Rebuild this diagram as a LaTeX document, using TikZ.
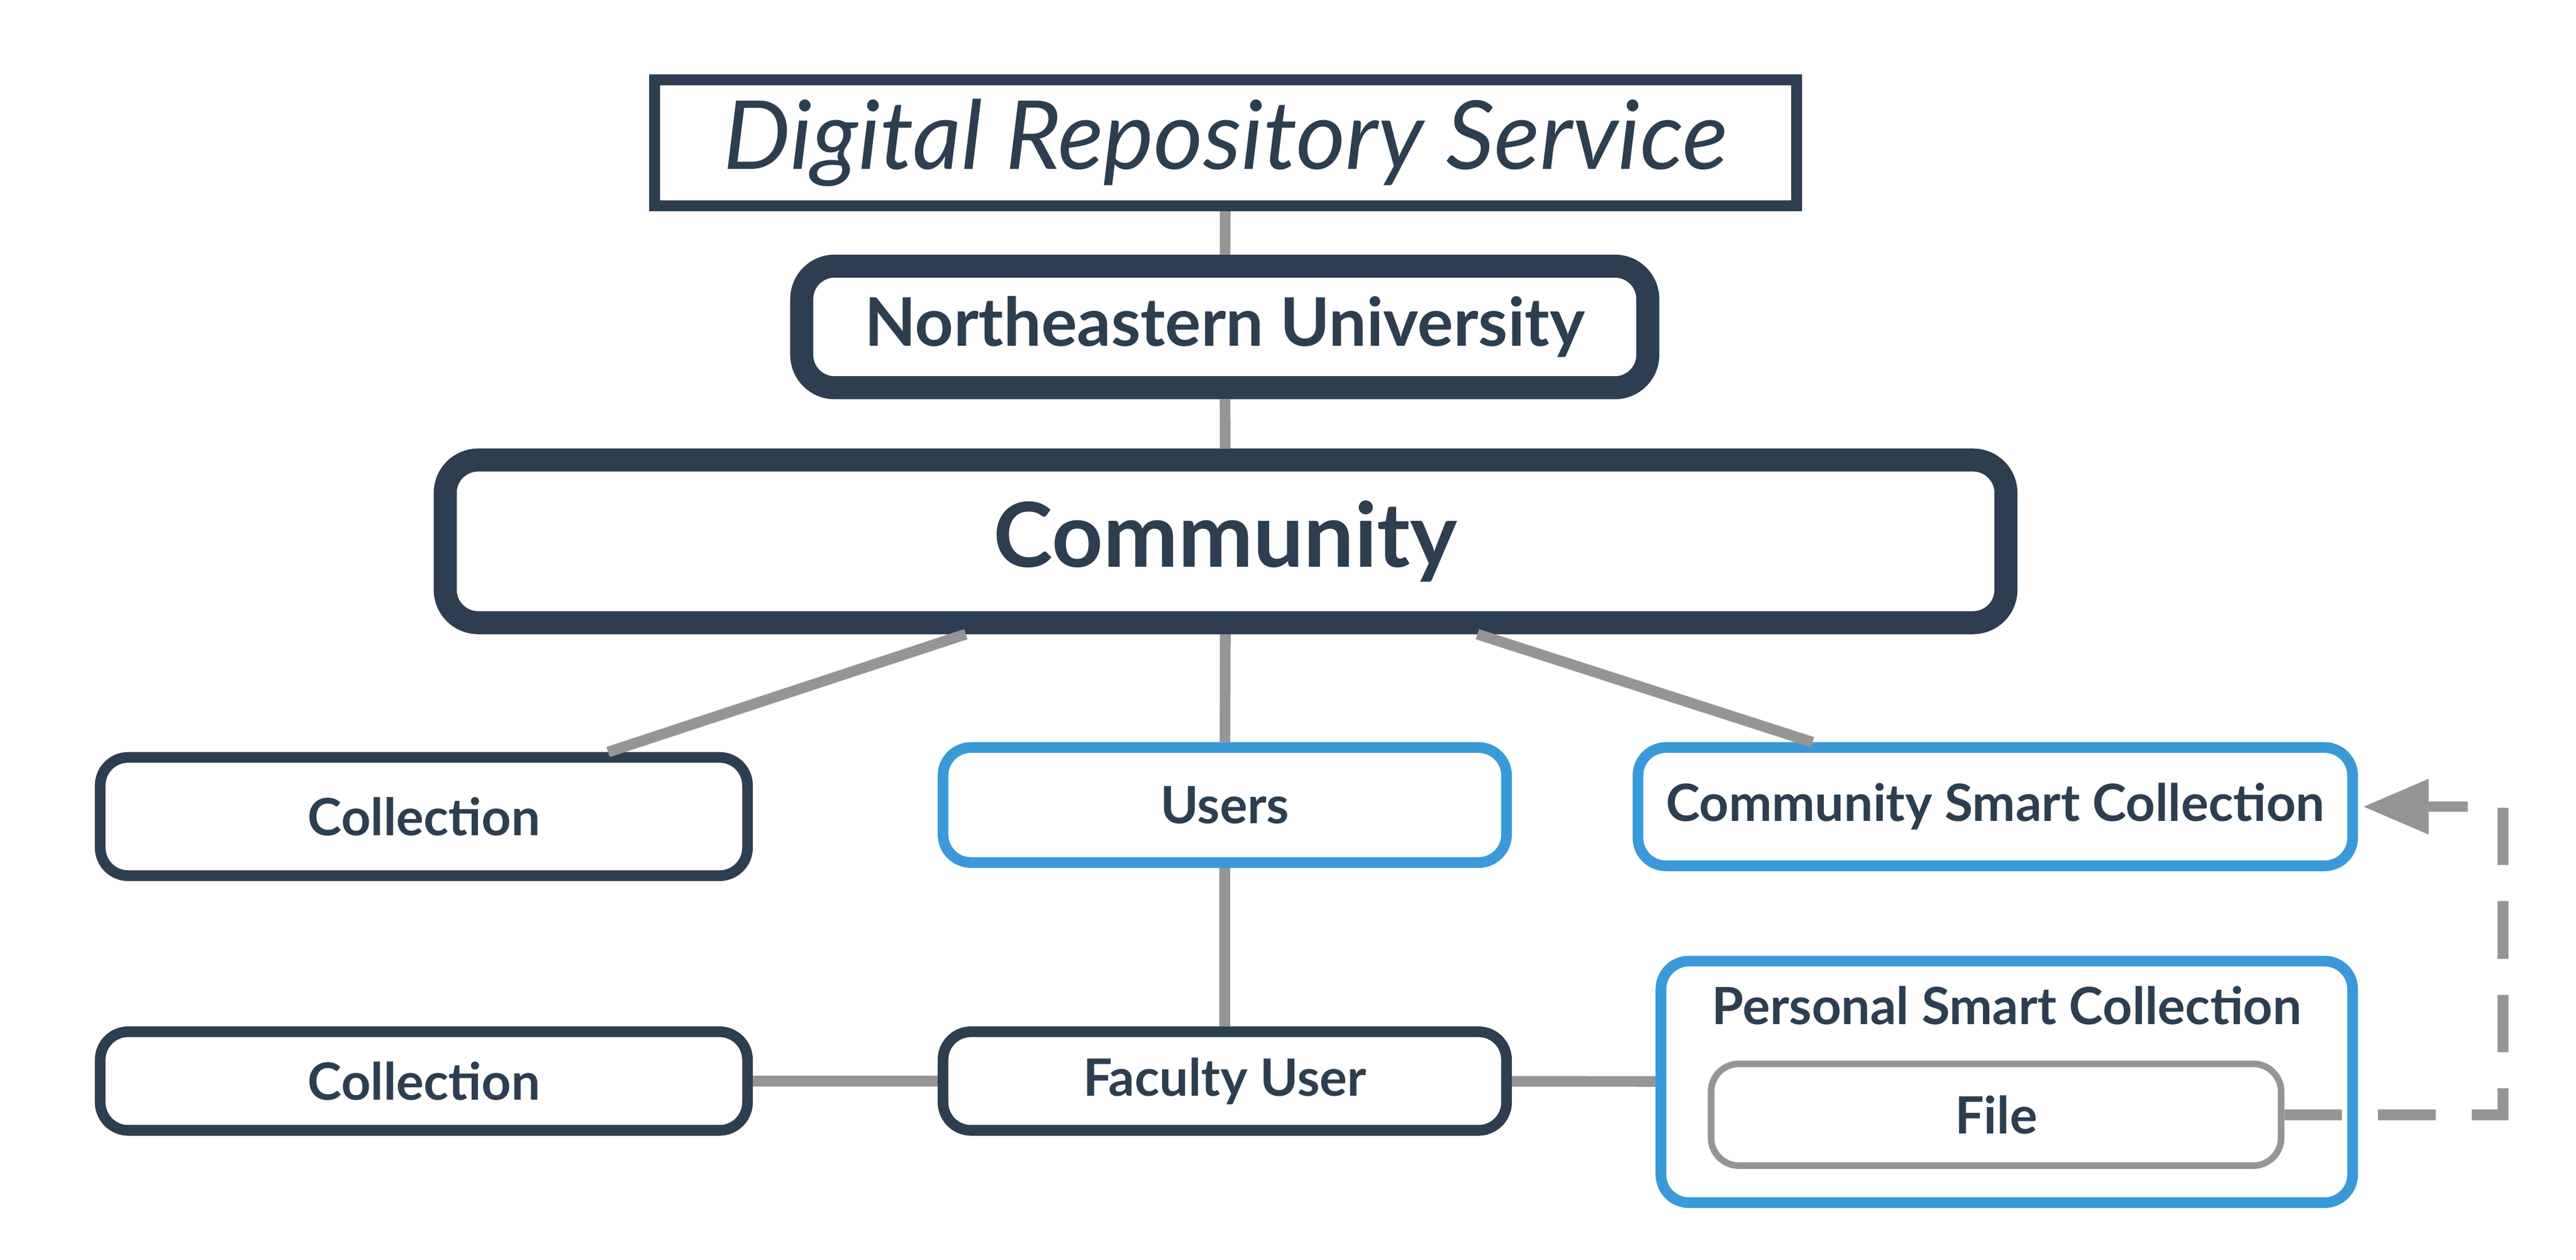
\documentclass[tikz,border=0pt]{standalone}
\usepackage{fontspec}
\setmainfont{Lato}
\usetikzlibrary{calc,arrows.meta}
\definecolor{navy}{HTML}{2C3E50}
\definecolor{skyblue}{HTML}{3A99D8}
\definecolor{linegray}{HTML}{959595}
\begin{document}
\begin{tikzpicture}[every node/.style={align=center, text=navy, font=\bfseries\fontsize{8.9}{10}\selectfont},
    darkbox/.style={draw=navy, line width=0.065cm, rounded corners=0.17cm, fill=white},
    bluebox/.style={draw=skyblue, line width=0.065cm, rounded corners=0.17cm, fill=white},
    link/.style={draw=linegray, line width=0.065cm}]
    \useasboundingbox (0,0) rectangle (15.68,-7.667);

    % Top of the tree
    \node[draw=navy, line width=0.065cm, minimum width=6.95cm, minimum height=0.75cm, fill=white,
          font=\itshape\fontsize{16.5}{18}\selectfont] (drs) at (7.46,-0.87) {Digital Repository Service};
    \node[draw=navy, line width=0.14cm, rounded corners=0.2cm, minimum width=5.15cm, minimum height=0.74cm,
          font=\bfseries\fontsize{11.6}{13}\selectfont] (nu) at (7.455,-1.99) {Northeastern University};
    \node[draw=navy, line width=0.14cm, rounded corners=0.2cm, minimum width=9.5cm, minimum height=0.99cm,
          font=\bfseries\fontsize{15.5}{18}\selectfont] (community) at (7.46,-3.295) {Community};

    % Second row
    \node[darkbox, minimum width=3.94cm, minimum height=0.72cm] (collection) at (2.58,-4.97) {Collection};
    \node[bluebox, minimum width=3.43cm, minimum height=0.70cm] (users) at (7.455,-4.90) {Users};
    \node[bluebox, minimum width=4.35cm, minimum height=0.72cm] (smartcoll) at (12.145,-4.91) {Community Smart Collection};

    % Third row
    \node[darkbox, minimum width=3.94cm, minimum height=0.60cm] (usercoll) at (2.58,-6.58) {Collection};
    \node[darkbox, minimum width=3.43cm, minimum height=0.60cm] (faculty) at (7.455,-6.58) {Faculty User};
    \node[bluebox, minimum width=4.21cm, minimum height=1.47cm] (personal) at (12.215,-6.585) {};
    \node (personaltitle) at (12.215,-6.12) {Personal Smart Collection};
    \node[draw=linegray, line width=0.04cm, rounded corners=0.17cm, minimum width=3.47cm, minimum height=0.62cm] (file) at (12.15,-6.785) {File};

    % Lines between the boxes
    \draw[link] (drs) -- (nu);
    \draw[link] (nu) -- (community);
    \draw[link] ($(community.south west)!0.336!(community.south east)$) -- ($(collection.north west)!0.78!(collection.north east)$);
    \draw[link] (community) -- (users);
    \draw[link] ($(community.south west)!0.659!(community.south east)$) -- ($(smartcoll.north west)!0.248!(smartcoll.north east)$);
    \draw[link] (users) -- (faculty);
    \draw[link] (usercoll) -- (faculty);
    \draw[link] (faculty) -- (personal);
    \draw[link, dash pattern=on 0.35cm off 0.22cm, -{Triangle[length=0.4cm, width=0.32cm]}, shorten >=0.03cm]
        (file.east) -- ++(1.33,0) |- (smartcoll.east);
\end{tikzpicture}
\end{document}
